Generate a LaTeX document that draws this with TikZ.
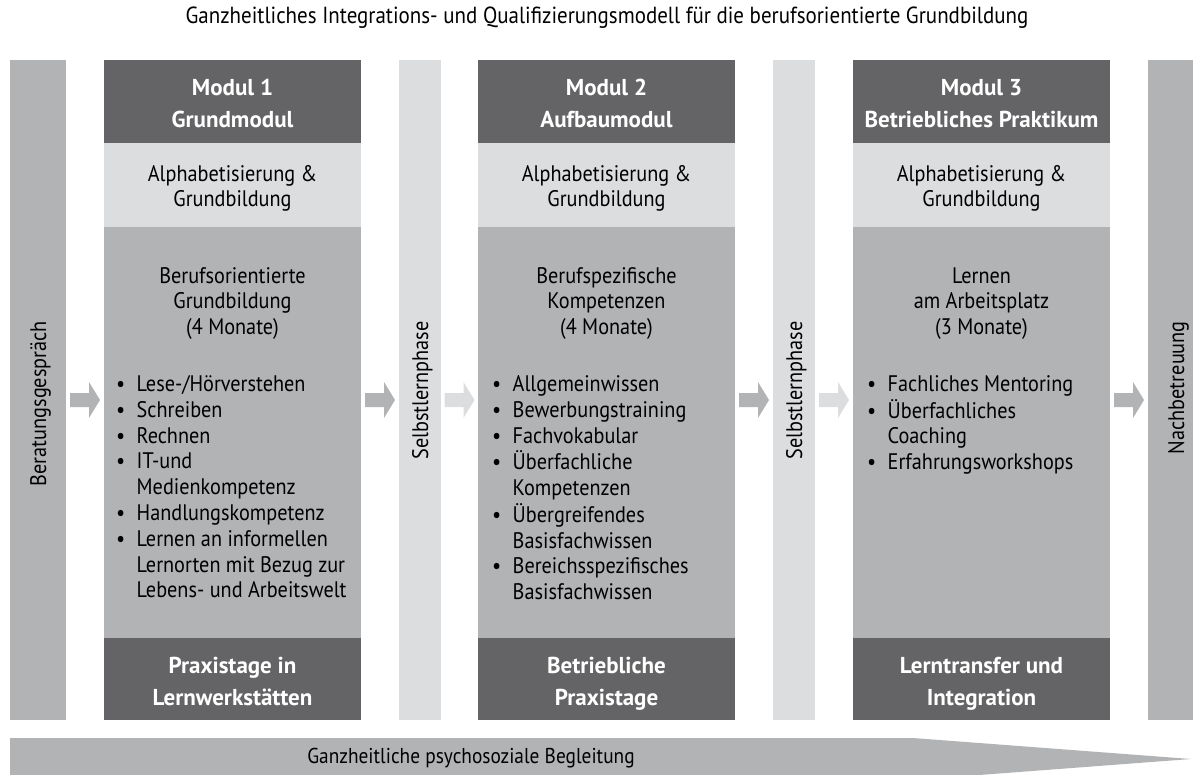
\documentclass[tikz,border=0pt]{standalone}
\usepackage{fontspec}
\setmainfont{PT Sans}
\newfontfamily\rgfont{PT Sans}[FakeStretch=0.9]
\usetikzlibrary{calc}
\definecolor{dk}{RGB}{100,100,102}
\definecolor{lt}{RGB}{220,221,223}
\definecolor{md}{RGB}{178,179,181}
\newcommand\ctab[1]{\begin{tabular}[t]{@{}c@{}}#1\end{tabular}}
\newcommand\ltab[1]{\begin{tabular}[t]{@{}l@{}}#1\end{tabular}}
\newcommand\bi{\makebox[20.5pt][l]{\textbullet}}
\newcommand\ci{\hspace*{20.5pt}}
\newcommand\blockarr[3]{%
  \coordinate (am) at ($(#1.east)!.5!(#2.west)$);
  \coordinate (ac) at (am |- 0,400);
  \fill[#3, shift={(ac)}] (-15,-7) -- (4,-7) -- (4,-18) -- (15,0) -- (4,18) -- (4,7) -- (-15,7) -- cycle;}
\tikzset{
  box/.style={rectangle, inner sep=0, outer sep=0, anchor=north west, draw=none},
  mbox/.style={box, minimum width=257},
  rg/.style={font=\rgfont\fontsize{22.5}{25.8}\selectfont, inner sep=0, anchor=base},
  hd/.style={font=\bfseries\fontsize{23}{32}\selectfont, text=white, inner sep=0, anchor=base},
  ttl/.style={font=\rgfont\fontsize{23.3}{26}\selectfont, inner sep=0, anchor=base},
  btl/.style={font=\rgfont\fontsize{21.5}{26}\selectfont, inner sep=0, anchor=base},
  vt/.style={rg, rotate=90, anchor=base east}
}
\begin{document}
\begin{tikzpicture}[x=1pt,y=-1pt]
\useasboundingbox (0,0) rectangle (1193,774);
\node[ttl] (title) at (607,23) {Ganzheitliches Integrations- und Qualifizierungsmodell für die berufsorientierte Grundbildung};

% side bars
\node[box, minimum width=56, minimum height=660, fill=md] (ber) at (10,60) {};
\node[vt] (bert) at (46,321) {Beratungsgespräch};
\node[box, minimum width=42, minimum height=660, fill=lt] (s1) at (399,60) {};
\node[vt] (s1t) at (428,321) {Selbstlernphase};
\node[box, minimum width=42, minimum height=660, fill=lt] (s2) at (773,60) {};
\node[vt] (s2t) at (802,321) {Selbstlernphase};
\node[box, minimum width=45, minimum height=660, fill=md] (nach) at (1148,60) {};
\node[vt] (nacht) at (1184,321) {Nachbetreuung};

% Modul 1
\node[mbox, minimum height=83, fill=dk] (m1h) at (104,60) {};
\node[mbox, minimum height=84, fill=lt] (m1a) at (104,143) {};
\node[mbox, minimum height=411, fill=md] (m1m) at (104,227) {};
\node[mbox, minimum height=82, fill=dk] (m1p) at (104,638) {};
\node[hd] (m1ht) at (232.5,95) {\ctab{Modul 1\\Grundmodul}};
\node[rg] (m1at) at (232.5,181) {\ctab{Alphabetisierung \&\\Grundbildung}};
\node[rg] (m1mt) at (232.5,283) {\ctab{Berufsorientierte\\Grundbildung\\(4 Monate)}};
\node[rg, anchor=base west] (m1l) at (116,391.5) {\ltab{\bi Lese-/Hörverstehen\\
\bi Schreiben\\
\bi Rechnen\\
\bi IT-und\\
\ci Medienkompetenz\\
\bi Handlungskompetenz\\
\bi Lernen an informellen\\
\ci Lernorten mit Bezug zur\\
\ci Lebens- und Arbeitswelt}};
\node[hd] (m1pt) at (232.5,673) {\ctab{Praxistage in\\Lernwerkstätten}};

% Modul 2
\node[mbox, minimum height=83, fill=dk] (m2h) at (478,60) {};
\node[mbox, minimum height=84, fill=lt] (m2a) at (478,143) {};
\node[mbox, minimum height=411, fill=md] (m2m) at (478,227) {};
\node[mbox, minimum height=82, fill=dk] (m2p) at (478,638) {};
\node[hd] (m2ht) at (606.5,95) {\ctab{Modul 2\\Aufbaumodul}};
\node[rg] (m2at) at (606.5,181) {\ctab{Alphabetisierung \&\\Grundbildung}};
\node[rg] (m2mt) at (606.5,283) {\ctab{Berufspezifische\\Kompetenzen\\(4 Monate)}};
\node[rg, anchor=base west] (m2l) at (492,391.5) {\ltab{\bi Allgemeinwissen\\
\bi Bewerbungstraining\\
\bi Fachvokabular\\
\bi Überfachliche\\
\ci Kompetenzen\\
\bi Übergreifendes\\
\ci Basisfachwissen\\
\bi Bereichsspezifisches\\
\ci Basisfachwissen}};
\node[hd] (m2pt) at (606.5,673) {\ctab{Betriebliche\\Praxistage}};

% Modul 3
\node[mbox, minimum height=83, fill=dk] (m3h) at (853,60) {};
\node[mbox, minimum height=84, fill=lt] (m3a) at (853,143) {};
\node[mbox, minimum height=411, fill=md] (m3m) at (853,227) {};
\node[mbox, minimum height=82, fill=dk] (m3p) at (853,638) {};
\node[hd] (m3ht) at (981.5,95) {\ctab{Modul 3\\Betriebliches Praktikum}};
\node[rg] (m3at) at (981.5,181) {\ctab{Alphabetisierung \&\\Grundbildung}};
\node[rg] (m3mt) at (981.5,283) {\ctab{Lernen\\am Arbeitsplatz\\(3 Monate)}};
\node[rg, anchor=base west] (m3l) at (867,391.5) {\ltab{\bi Fachliches Mentoring\\
\bi Überfachliches\\
\ci Coaching\\
\bi Erfahrungsworkshops}};
\node[hd] (m3pt) at (981.5,673) {\ctab{Lerntransfer und\\Integration}};

% block arrows
\blockarr{ber}{m1m}{md}
\blockarr{m1m}{s1}{md}
\blockarr{s1}{m2m}{lt}
\blockarr{m2m}{s2}{md}
\blockarr{s2}{m3m}{lt}
\blockarr{m3m}{nach}{md}

% bottom arrow bar
\begin{scope}
\clip (0,0) rectangle (1193,774);
\fill[md] (10,738) -- (913,738) -- (1191,759) -- (913,780) -- (10,780) -- cycle;
\end{scope}
\node[btl] (psy) at (471,763) {Ganzheitliche psychosoziale Begleitung};
\end{tikzpicture}
\end{document}
